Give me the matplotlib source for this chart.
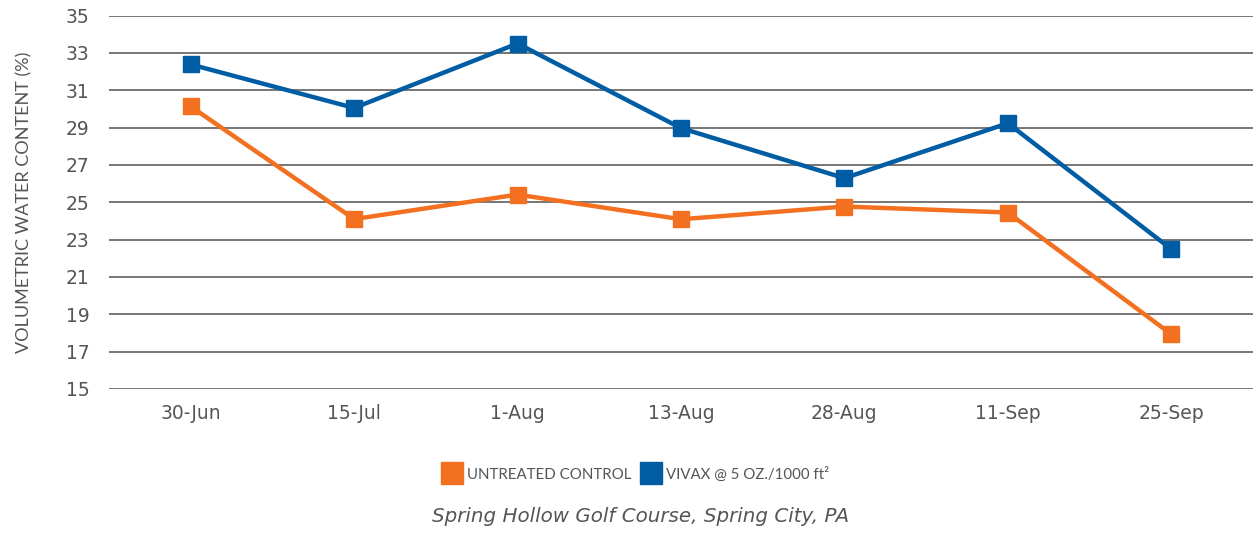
import matplotlib
matplotlib.use("Agg")
import matplotlib.pyplot as plt
from matplotlib.lines import Line2D

categories = ["30-Jun", "15-Jul", "1-Aug", "13-Aug", "28-Aug", "11-Sep", "25-Sep"]
untreated = [30.13, 24.1, 25.41, 24.09, 24.77, 24.45, 17.93]
vivax = [32.38, 30.05, 33.5, 28.97, 26.29, 29.23, 22.49]
yticks = [15, 17, 19, 21, 23, 25, 27, 29, 31, 33, 35]
series_names = ["UNTREATED CONTROL", "VIVAX @ 5 OZ./1000 ft\u00b2"]
subtitle = "Spring Hollow Golf Course, Spring City, PA"

ORANGE = "#F37021"
BLUE = "#005DA4"
TXT = "#555555"
GRID = "#6b6b6b"

plt.rcParams['font.family'] = ['DejaVu Sans']

fig = plt.figure(figsize=(12.6, 5.37), dpi=100)
ax = fig.add_axes([109/1260, 1-389/537, (1253-109)/1260, (389-15.5)/537])

x = list(range(len(categories)))
ax.plot(x, untreated, color=ORANGE, lw=3.2, marker="s", ms=11.5, zorder=3)
ax.plot(x, vivax, color=BLUE, lw=3.2, marker="s", ms=11.5, zorder=4)

ax.set_xlim(-0.5, len(categories) - 0.5)
ax.set_ylim(15, 35)
ax.set_yticks(yticks)
ax.set_xticks(x)
ax.set_xticklabels(categories)
for s in ax.spines.values():
    s.set_visible(False)
ax.yaxis.grid(True, color=GRID, lw=1.3)
ax.set_axisbelow(True)
ax.tick_params(axis="y", length=0, labelsize=13.5, labelcolor=TXT, pad=14)
ax.tick_params(axis="x", length=0, labelsize=13.5, labelcolor=TXT, pad=11)
ax.set_ylabel("VOLUMETRIC WATER CONTENT (%)", fontsize=13, color=TXT, labelpad=24,
              family=['Lato', 'DejaVu Sans'])

handles = [Line2D([], [], ls="none", marker="s", ms=16.5, color=ORANGE),
           Line2D([], [], ls="none", marker="s", ms=16.5, color=BLUE)]
fig.legend(handles, series_names, loc="center", bbox_to_anchor=(0.505, 1-474/537),
           ncol=2, frameon=False, labelcolor=TXT,
           prop={'family': ['Lato', 'DejaVu Sans'], 'size': 10.8},
           handletextpad=0.4, columnspacing=0.7, handlelength=1.2)

fig.text(0.508, 1-517/537, subtitle, ha="center", va="center", fontsize=14.3,
         style="italic", color=TXT)

fig.savefig("out.png", dpi=100, facecolor="white")
